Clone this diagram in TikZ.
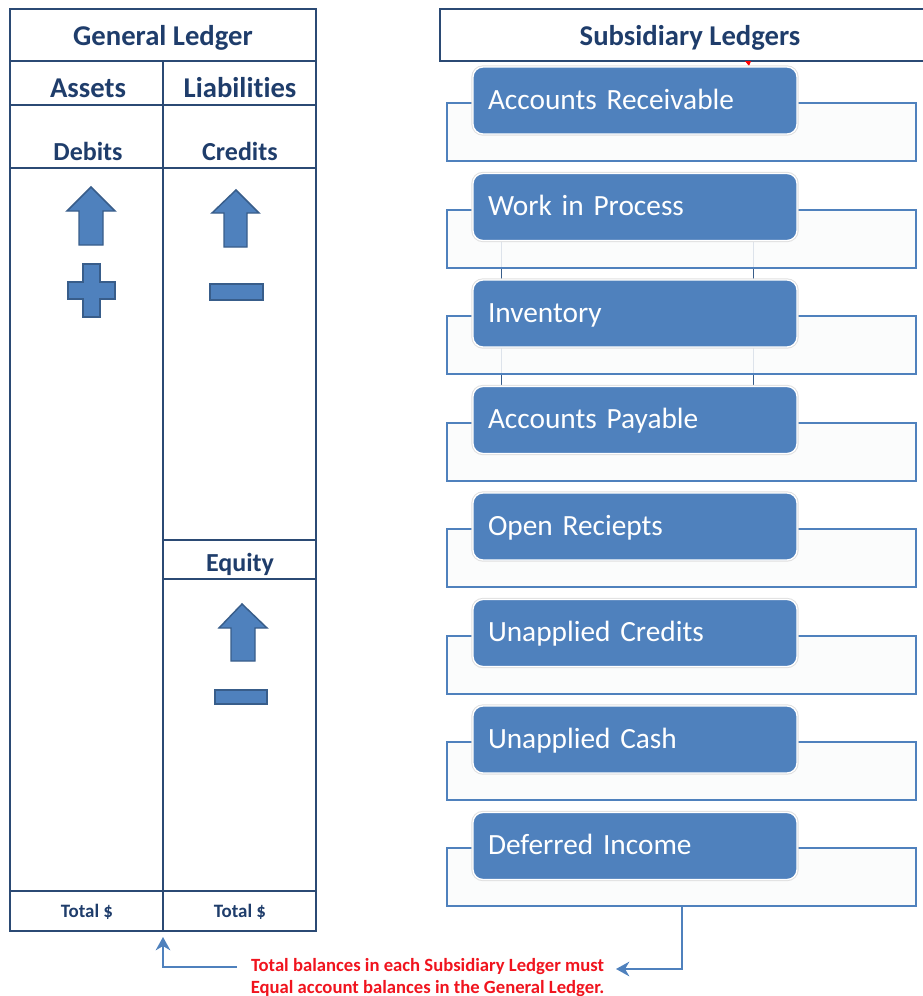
\documentclass[tikz,border=0pt]{standalone}
\usepackage{fontspec}
\setmainfont{Carlito}[Ligatures=NoCommon]
\usetikzlibrary{arrows.meta,backgrounds}
\definecolor{ledgerline}{HTML}{2B4A74}
\definecolor{ledgertext}{HTML}{1F3D6B}
\definecolor{boxblue}{HTML}{4F81BD}
\definecolor{signline}{HTML}{385D8A}
\definecolor{notered}{HTML}{F0141E}
\definecolor{panelfill}{HTML}{FAFBFC}
\tikzset{
  grid/.style={ledgerline,line width=1.5pt},
  head/.style={font=\bfseries\fontsize{21.5}{25}\selectfont,text=ledgertext,anchor=base,inner sep=0pt},
  colhead/.style={head,font=\bfseries\fontsize{19.5}{23}\selectfont},
  total/.style={head,font=\bfseries\fontsize{14.2}{17}\selectfont},
  sign/.style={fill=boxblue,draw=signline,line width=1.1pt},
  panel/.style={draw=boxblue,line width=1.5pt,fill=panelfill,fill opacity=.85,minimum width=351.75pt,minimum height=43.5pt,inner sep=0pt},
  ledgerbox/.style={fill=boxblue,draw=white,line width=1pt,rounded corners=7.5pt,preaction={draw=black!12,line width=2.5pt},
    text width=220.5pt,align=left,inner xsep=11.25pt,inner ysep=0pt,minimum height=50.25pt,
    text height=16pt,text depth=3.25pt,text=white,font=\fontsize{22}{25}\selectfont},
  link/.style={draw=signline,line width=1.1pt},
  conn/.style={boxblue,line width=1.5pt,->,>={Stealth[length=10pt,width=11pt]}},
  note/.style={font=\bfseries\fontsize{14}{16}\selectfont,text=notered,anchor=base,inner sep=0pt}
}
\begin{document}
\begin{tikzpicture}[x=0.75pt,y=-0.75pt]
\useasboundingbox(0,0)rectangle(923,996);
\draw[grid](10,9)rectangle(316,931);
\draw[grid](10,61)--(316,61);
\draw[grid](10,105)--(316,105);
\draw[grid](10,168)--(316,168);
\draw[grid](10,891)--(316,891);
\draw[grid](163,61)--(163,931);
\draw[grid](163,540)--(316,540);
\draw[grid](163,579)--(316,579);
\node[head](gl)at(163,45){General Ledger};
\node[head](assets)at(88,97){Assets};
\node[head](liab)at(240,97){Liabilities};
\node[colhead](debits)at(88,160){Debits};
\node[colhead](credits)at(240,160){Credits};
\node[colhead](equity)at(240,571){Equity};
\node[total](tot1)at(87,917){Total \$};
\node[total](tot2)at(240,917){Total \$};
\draw[sign](91,187)--(115,211)--(103,211)--(103,245)--(79,245)--(79,211)--(67,211)--cycle;
\draw[sign](83,264)--(100,264)--(100,282)--(115,282)--(115,299)--(100,299)--(100,317)--(83,317)--(83,299)--(68,299)--(68,282)--(83,282)--cycle;
\draw[sign](236,190)--(259,213)--(247,213)--(247,247)--(224,247)--(224,213)--(212,213)--cycle;
\draw[sign](210,284)rectangle(263,300);
\draw[sign](242,604)--(267,628)--(255,628)--(255,661)--(231,661)--(231,628)--(219,628)--cycle;
\draw[sign](215,690)rectangle(267,704);
\draw[grid](924,9)--(440,9)--(440,61)--(924,61);
\node[head](sl)at(690,45){Subsidiary Ledgers};
\fill[red](745,61)--(751,61)--(749,66)--cycle;
\node[panel](arp)at(681.5,132){};
\node[panel](wipp)at(681.5,238.5){};
\node[panel](invp)at(681.5,345){};
\node[panel](app)at(681.5,451.5){};
\node[panel](orp)at(681.5,558){};
\node[panel](ucp)at(681.5,664.5){};
\node[panel](ucashp)at(681.5,771){};
\node[panel](dip)at(681.5,876.5){};
\node[ledgerbox](ar)at(635,100.5){Accounts Receivable};
\node[ledgerbox](wip)at(635,207){Work in Process};
\node[ledgerbox](inv)at(635,313.5){Inventory};
\node[ledgerbox](ap)at(635,420){Accounts Payable};
\node[ledgerbox](or)at(635,526.5){Open Reciepts};
\node[ledgerbox](uc)at(635,633){Unapplied Credits};
\node[ledgerbox](ucash)at(635,739.5){Unapplied Cash};
\node[ledgerbox](di)at(635,846){Deferred Income};
\begin{scope}[on background layer]
\draw[link]([xshift=21.75pt]wip.south west)--([xshift=21.75pt]inv.north west);
\draw[link]([xshift=-33pt]wip.south east)--([xshift=-33pt]inv.north east);
\draw[link]([xshift=21.75pt]inv.south west)--([xshift=21.75pt]ap.north west);
\draw[link]([xshift=-33pt]inv.south east)--([xshift=-33pt]ap.north east);
\end{scope}
\node[note](note1)at(427.5,971){Total balances in each Subsidiary Ledger must};
\node[note](note2)at(427.5,993){Equal account balances in the General Ledger.};
\coordinate(noteR)at(616,969);
\coordinate(noteL)at(237,967);
\coordinate(glfoot)at(163,937);
\draw[conn](dip.south)|-(noteR);
\draw[conn](noteL)-|(glfoot);
\end{tikzpicture}
\end{document}
